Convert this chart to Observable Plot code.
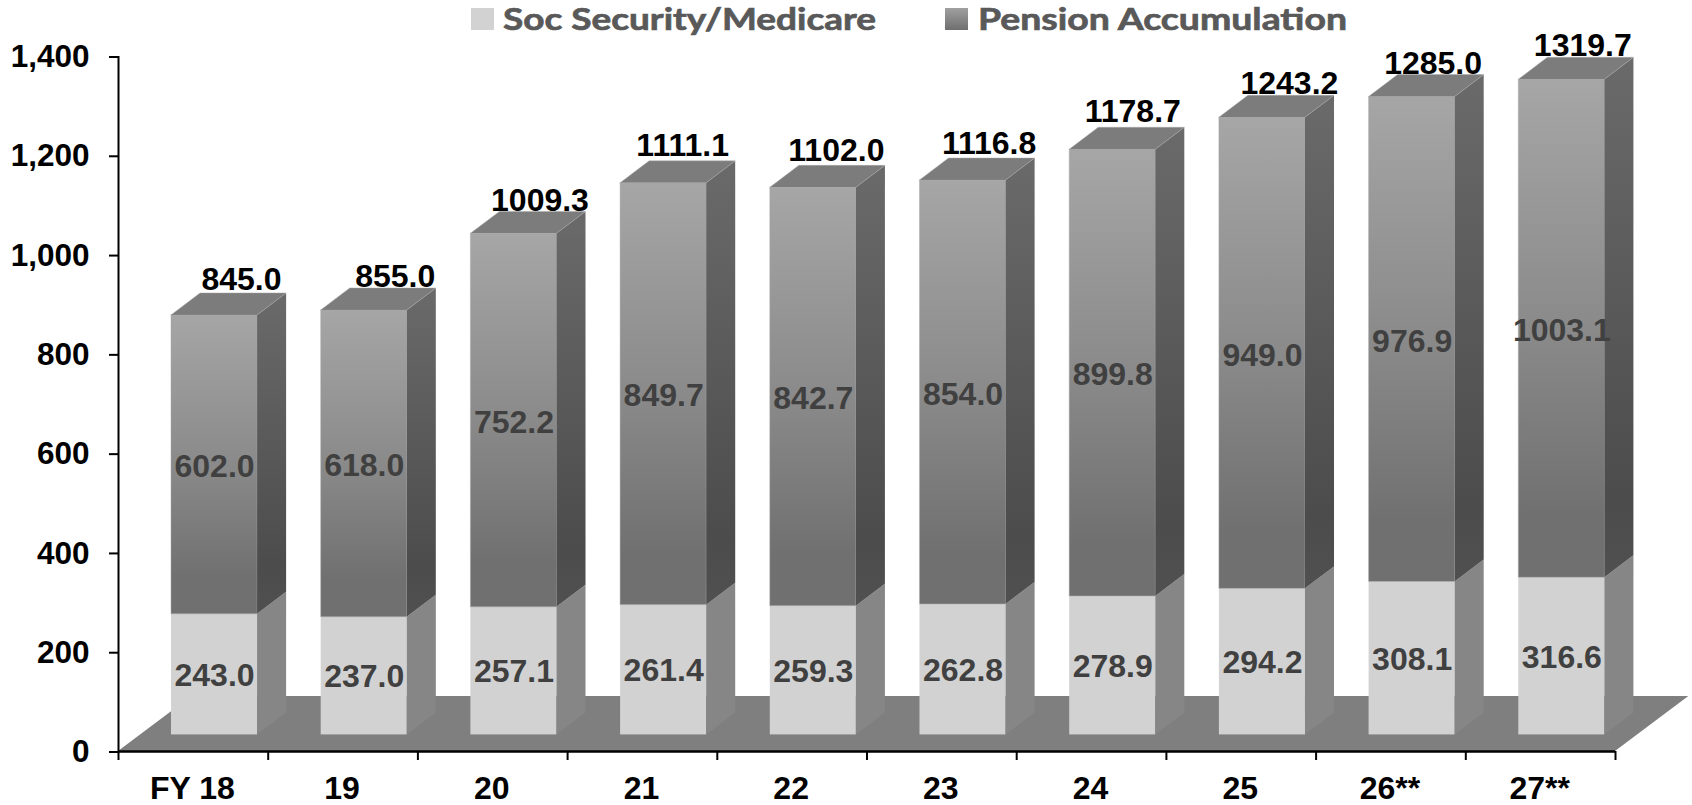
<!DOCTYPE html>
<html>
<head>
<meta charset="utf-8">
<script src="https://cdn.jsdelivr.net/npm/d3@7"></script>
<script src="https://cdn.jsdelivr.net/npm/@observablehq/plot@0.6"></script>
<style>
html,body{margin:0;padding:0;background:#fff}
#chart{position:relative;width:1692px;height:805px}
#chart svg{display:block}
.lg{position:absolute;font:700 31px Lato,sans-serif;color:#595959;white-space:nowrap;line-height:31px;top:3.4px;transform-origin:left center;-webkit-text-stroke:0.7px #595959}
.sw{position:absolute;top:8px;width:23px;height:22px}
</style>
</head>
<body>
<div id="chart"></div>
<script>
const categories = ["FY 18","19","20","21","22","23","24","25","26**","27**"];
const socSecurity = [243.0,237.0,257.1,261.4,259.3,262.8,278.9,294.2,308.1,316.6];
const pension = [602.0,618.0,752.2,849.7,842.7,854.0,899.8,949.0,976.9,1003.1];
const totals = [845.0,855.0,1009.3,1111.1,1102.0,1116.8,1178.7,1243.2,1285.0,1319.7];
const yTicks = [0,200,400,600,800,1000,1200,1400];
const legendLabels = ["Soc Security/Medicare","Pension Accumulation"];

// 3D extrusion, expressed in scale units
const depthX = 0.194, depthY = 44.3, riseY = 33.4;
const barL = 0.354, barR = 0.929, barC = (barL + barR) / 2;
const floorDX = 0.49, floorDY = 111;
const totalNudgeX = [0.18,0.207,0.174,0.127,0.154,0.174,0.134,0.18,0.14,0.14];
const totalNudgeY = [32,28,26,36,34,33,36,28,26,28];

const rows = categories.map((c,i)=>({c,i,soc:socSecurity[i],pen:pension[i],tot:totals[i],
  x1:i+barL,x2:i+barR,y0:riseY,y1:riseY+socSecurity[i],y2:riseY+socSecurity[i]+pension[i]}));

const side = (a,b)=>rows.flatMap(r=>[
  {id:r.i,x:r.x2,lo:r[a],hi:r[b]},
  {id:r.i,x:r.x2+depthX,lo:r[a]+depthY,hi:r[b]+depthY}]);
const top_ = rows.flatMap(r=>[
  {id:r.i,y:r.y2,l:r.x1,h:r.x2},
  {id:r.i,y:r.y2+depthY,l:r.x1+depthX,h:r.x2+depthX}]);
const floor = [{y:0,l:0,h:10},{y:floorDY,l:floorDX,h:10+floorDX}];

const defs = () => {
  const s = d3.create("svg:defs");
  const grad = (id,stops)=>{
    const g = s.append("linearGradient").attr("id",id).attr("x1",0).attr("x2",0).attr("y1",0).attr("y2",1);
    stops.forEach(([o,c])=>g.append("stop").attr("offset",o).attr("stop-color",c));
  };
  grad("penFront",[[0,"#a6a6a6"],[0.5,"#8a8a8a"],[0.88,"#707070"],[1,"#707070"]]);
  grad("penSide",[[0,"#6a6a6a"],[0.85,"#4c4c4c"],[1,"#505050"]]);
  return s.node();
};

const edge = {stroke:"#a8a8a8",strokeOpacity:0.45,strokeWidth:1};
const valueFont = {fontSize:32, fontWeight:700};
const plot = Plot.plot({
  width:1692,height:805,
  marginTop:56,marginBottom:54,marginLeft:118,marginRight:77,
  x:{type:"linear",domain:[0,10],range:[118,1615]},
  y:{type:"linear",domain:[0,1400],range:[751,56]},
  style:{background:"#fff",fontFamily:"'Liberation Sans',Arial,sans-serif",fontWeight:700,fontSize:"31.5px",color:"#000",overflow:"visible"},
  marks:[
    defs,
    Plot.area(floor,{x1:"l",x2:"h",y1:"y",fill:"#7f7f7f"}),
    Plot.rect(rows,{x1:"x1",x2:"x2",y1:"y0",y2:"y1",fill:"#d2d2d2"}),
    Plot.area(side("y0","y1"),{x1:"x",y1:"lo",y2:"hi",z:"id",fill:"#868686"}),
    Plot.rect(rows,{x1:"x1",x2:"x2",y1:"y1",y2:"y2",fill:"url(#penFront)",...edge}),
    Plot.area(side("y1","y2"),{x1:"x",y1:"lo",y2:"hi",z:"id",fill:"url(#penSide)"}),
    Plot.area(top_,{x1:"l",x2:"h",y1:"y",z:"id",fill:"#7c7c7c",...edge}),
    Plot.text(rows,{x:r=>r.i+barC,y:r=>r.y0+r.soc/2,text:r=>r.soc.toFixed(1),fill:"#404040",dy:1,...valueFont}),
    Plot.text(rows,{x:r=>r.i+barC,y:r=>r.y1+r.pen/2,text:r=>r.pen.toFixed(1),fill:"#404040",dy:2,...valueFont}),
    Plot.text(rows,{x:r=>r.i+barC+totalNudgeX[r.i],y:r=>r.y2+depthY+totalNudgeY[r.i],text:r=>r.tot.toFixed(1),fill:"#000",dy:2,...valueFont}),
    Plot.ruleX([0],{y1:0,y2:1400,stroke:"#000",strokeWidth:2}),
    Plot.ruleY([0],{x1:0,x2:10,stroke:"#000",strokeWidth:2.5}),
    Plot.axisY({ticks:yTicks,tickSize:9,tickPadding:20,tickFormat:d3.format(","),stroke:"#000",strokeWidth:2,label:null,fill:"#000",dy:0.5}),
    Plot.axisX({ticks:d3.range(0,11),tickSize:9,tickFormat:()=>"",stroke:"#000",strokeWidth:2,label:null}),
    Plot.axisX({ticks:categories.map((c,i)=>i+0.5),tickSize:0,tickPadding:25,tickFormat:v=>categories[v-0.5],label:null,fill:"#000",lineAnchor:"top",fontSize:32,dx:-1})
  ]
});
const chart = document.getElementById("chart");
chart.appendChild(plot);

function legendItem(label,swX,txX,w,bg){
  const sw=document.createElement("div");sw.className="sw";sw.style.left=swX+"px";sw.style.background=bg;chart.appendChild(sw);
  const t=document.createElement("div");t.className="lg";t.textContent=label;t.style.left=txX+"px";chart.appendChild(t);
  t.style.transform=`scaleX(${w/t.getBoundingClientRect().width})`;
}
legendItem(legendLabels[0],471,503,373,"#d2d2d2");
legendItem(legendLabels[1],945,978,369,"linear-gradient(#a0a0a0,#6f6f6f)");
</script>
</body>
</html>
